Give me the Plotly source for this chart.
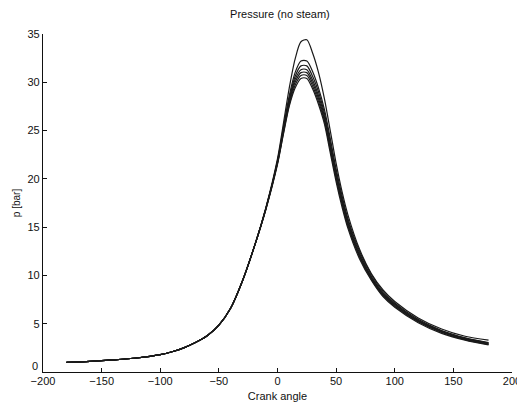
import plotly.graph_objects as go

crank_angle = [-180, -160, -140, -120, -100, -90, -80, -70, -60, -50, -40, -30, -20, -10, 0, 5, 10, 15, 20, 25,
               30, 35, 40, 45, 50, 55, 60, 70, 80, 90, 100, 120, 140, 160, 180]

p_cycle1 = [1.0, 1.1, 1.25, 1.45, 1.8, 2.1, 2.5, 3.05, 3.75, 4.85, 6.6, 9.4, 12.9, 17.0, 22.1, 25.7, 29.4, 32.4, 34.2, 34.4,
            33.0, 31.0, 28.3, 25.0, 21.6, 18.7, 16.3, 12.7, 10.2, 8.5, 7.3, 5.6, 4.45, 3.7, 3.3]
p_cycle2 = [1.0, 1.1, 1.25, 1.45, 1.8, 2.1, 2.5, 3.05, 3.75, 4.85, 6.6, 9.4, 12.9, 16.9, 21.9, 25.3, 28.6, 31.0, 32.2, 32.2,
            31.1, 29.4, 27.2, 24.2, 21.0, 18.3, 15.9, 12.5, 10.1, 8.35, 7.15, 5.45, 4.3, 3.55, 3.05]
p_cycle3 = [1.0, 1.1, 1.25, 1.45, 1.8, 2.1, 2.5, 3.05, 3.75, 4.85, 6.6, 9.4, 12.9, 16.9, 21.8, 25.1, 28.3, 30.6, 31.7, 31.7,
            30.6, 29.0, 26.8, 23.8, 20.7, 18.0, 15.7, 12.3, 9.9, 8.2, 7.05, 5.35, 4.25, 3.5, 3.0]
p_cycle4 = [1.0, 1.1, 1.25, 1.45, 1.8, 2.1, 2.5, 3.05, 3.75, 4.85, 6.6, 9.4, 12.9, 16.9, 21.7, 25.0, 28.1, 30.3, 31.3, 31.3,
            30.2, 28.6, 26.5, 23.5, 20.4, 17.8, 15.5, 12.1, 9.8, 8.1, 7.0, 5.3, 4.2, 3.45, 2.95]
p_cycle5 = [1.0, 1.1, 1.25, 1.45, 1.8, 2.1, 2.5, 3.05, 3.75, 4.85, 6.6, 9.4, 12.9, 16.9, 21.7, 24.9, 27.9, 30.0, 31.0, 31.0,
            29.9, 28.3, 26.2, 23.2, 20.2, 17.6, 15.3, 12.0, 9.7, 8.0, 6.9, 5.25, 4.15, 3.4, 2.9]
p_cycle6 = [1.0, 1.1, 1.25, 1.45, 1.8, 2.1, 2.5, 3.05, 3.75, 4.85, 6.6, 9.4, 12.9, 16.8, 21.6, 24.7, 27.7, 29.7, 30.7, 30.7,
            29.6, 28.0, 26.0, 23.0, 20.0, 17.4, 15.1, 11.9, 9.6, 7.9, 6.8, 5.2, 4.1, 3.35, 2.85]
p_cycle7 = [1.0, 1.1, 1.25, 1.45, 1.8, 2.1, 2.5, 3.05, 3.75, 4.85, 6.6, 9.4, 12.9, 16.8, 21.5, 24.6, 27.5, 29.4, 30.4, 30.4,
            29.3, 27.7, 25.7, 22.7, 19.7, 17.1, 14.9, 11.7, 9.5, 7.8, 6.7, 5.1, 4.0, 3.3, 2.8]

cycles = [p_cycle1, p_cycle2, p_cycle3, p_cycle4, p_cycle5, p_cycle6, p_cycle7]

x_ticks = [-200, -150, -100, -50, 0, 50, 100, 150, 200]
y_ticks = [5, 10, 15, 20, 25, 30, 35]
y_zero_label = "0"

fig = go.Figure()
for p in cycles:
    fig.add_trace(go.Scatter(x=crank_angle, y=p, mode="lines",
                             line=dict(color="#1a1a1a", width=1.2, shape="spline", smoothing=0.8),
                             showlegend=False, hoverinfo="skip"))

font_family = "Liberation Sans, Arial, sans-serif"
# the page adds an 8px body margin, so the figure is laid out 8px up/left of its target position
fig.update_layout(
    width=517, height=400,
    margin=dict(l=35, r=13, t=26, b=36),
    paper_bgcolor="white", plot_bgcolor="white",
    font=dict(family=font_family, color="#111", size=11),
    title=dict(text="Pressure (no steam)", x=0.526, xanchor="center", y=0.985, yanchor="middle",
               font=dict(size=11, family=font_family, color="#111")),
    showlegend=False,
)
fig.update_xaxes(range=[-200, 200], tickvals=x_ticks, ticks="inside", ticklen=4, tickcolor="#111",
                 showline=True, linecolor="#111", linewidth=1.2, showgrid=False, zeroline=False,
                 tickfont=dict(size=11), automargin=False, ticklabelstandoff=-1,
                 title=dict(text="Crank angle", font=dict(size=11), standoff=6))
fig.update_yaxes(range=[0, 35], tickvals=y_ticks, ticks="inside", ticklen=4, tickcolor="#111",
                 showline=True, linecolor="#111", linewidth=1.2, showgrid=False, zeroline=False,
                 tickfont=dict(size=11), automargin=False,
                 title=dict(text="p [bar]", font=dict(size=10), standoff=4))
# zero tick on the y axis: label raised slightly, as in the reference
fig.add_annotation(text=y_zero_label, xref="paper", yref="y", x=0, y=0, xanchor="right", yanchor="middle",
                   xshift=-3, yshift=6, showarrow=False, font=dict(size=11, color="#111"))

fig.write_html("out.html")
